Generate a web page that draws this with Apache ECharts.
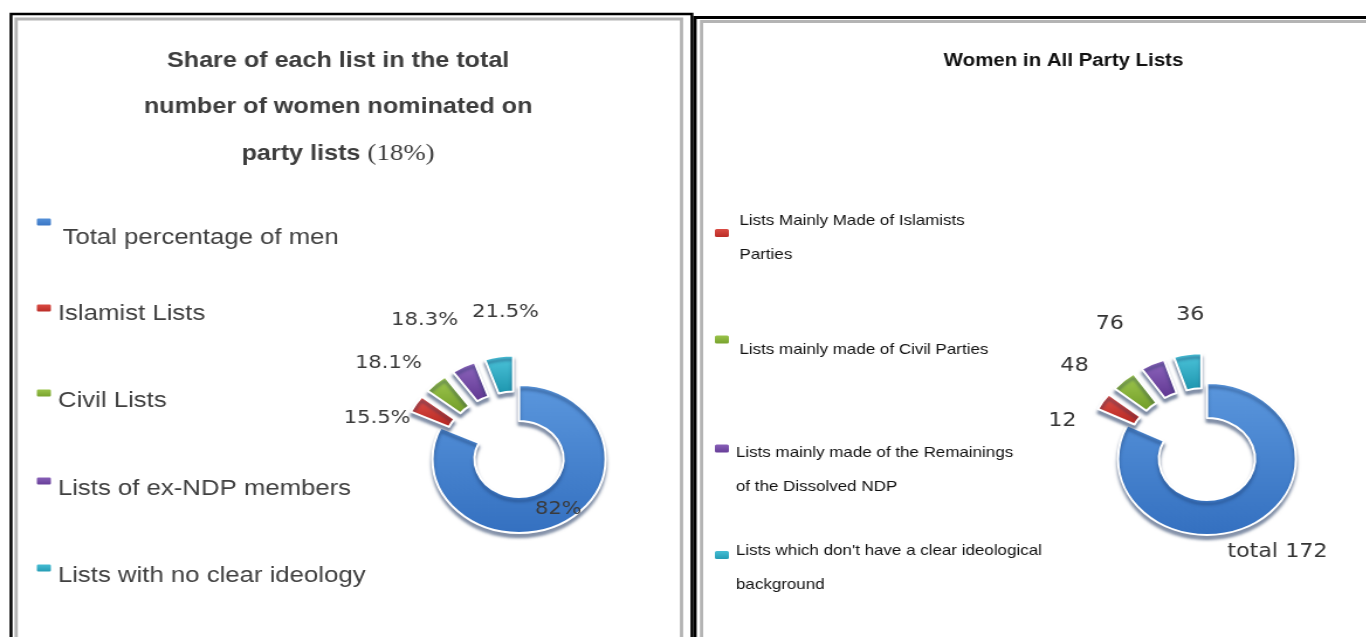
<!DOCTYPE html>
<html>
<head>
<meta charset="utf-8">
<title>Women on party lists</title>
<script src="https://cdn.jsdelivr.net/npm/echarts@6/dist/echarts.min.js"></script>
<style>
html, body { margin: 0; padding: 0; background: #fff; overflow: hidden; }
/* the source picture is stretched sideways, so the chart is drawn narrower and scaled */
#chart { width: 1168px; height: 637px; transform: scaleX(1.17); transform-origin: 0 0; }
</style>
</head>
<body>
<div id="chart"></div>
<script>
// left panel: share of each list
var leftNames = ['Total percentage of men', 'Islamist Lists', 'Civil Lists', 'Lists of ex-NDP members', 'Lists with no clear ideology'];
var leftSlice = [82, 3.8, 4.4, 4.5, 5.3];
var leftLabels = ['82%', '15.5%', '18.1%', '18.3%', '21.5%'];

// right panel: women in all party lists
var rightNames = ['Total', 'Lists Mainly Made of Islamists Parties', 'Lists mainly made of Civil Parties', 'Lists mainly made of the Remainings of the Dissolved NDP', "Lists which don't have a clear ideological background"];
var rightLegendText = ['', 'Lists Mainly Made of Islamists\nParties', 'Lists mainly made of Civil Parties', 'Lists mainly made of the Remainings\nof the Dissolved NDP', "Lists which don't have a clear ideological\nbackground"];
var rightCounts = [172, 12, 48, 76, 36];
var rightSlice = [82, 3.6, 4.6, 4.4, 5.0];

var colors = [['#5b97dd', '#3470c0'], ['#e2544c', '#b3241f'], ['#a3cc52', '#6f9a26'], ['#9169c0', '#5e3590'], ['#4fc6dc', '#1c94ad']];

// small nudges so the labels sit where the source put them
var leftNudge = [[2, 1], [9, 20], [0, -13], [5, -37], [41, -34]];
var rightNudge = [[-33, 20], [-9, 25], [-18, -7], [-15, -31], [21, -29]];

function grad(c) {
    return new echarts.graphic.LinearGradient(0, 0, 0, 1, [
        { offset: 0, color: c[0] },
        { offset: 1, color: c[1] }
    ]);
}

var chart = echarts.init(document.getElementById('chart'));

function pieData(names, values, labelPos) {
    return names.map(function (n, i) {
        var item = { name: n, value: values[i], selected: i > 0, itemStyle: { color: grad(colors[i]) } };
        if (i === 0) item.label = { position: labelPos };
        return item;
    });
}

var pieBase = {
    type: 'pie',
    startAngle: 90,
    clockwise: true,
    selectedMode: 'multiple',
    selectedOffset: 30,
    avoidLabelOverlap: false,
    emphasis: { disabled: true },
    itemStyle: {
        borderColor: '#fff',
        borderWidth: 2,
        shadowColor: 'rgba(20, 45, 90, 0.5)',
        shadowBlur: 3,
        shadowOffsetY: 4
    },
    select: { itemStyle: { borderColor: '#fff', borderWidth: 2 } },
    labelLine: { show: false, length: 10, length2: 0 }
};

function richLines(text) {
    return text.split('\n').map(function (s) { return '{a|' + s + '}'; }).join('\n');
}

// one small legend per item so every entry sits like the picture
var legends = [];
var leftLegendTops = [216.5, 302.5, 387.5, 475.5, 562.5];
var leftLegendPad = [[32, 0, 0, 4], [12, 0, 0, 0], [16, 0, 0, 0], [16, 0, 0, 0], [16, 0, 0, 0]];
leftNames.forEach(function (n, i) {
    legends.push({
        orient: 'vertical',
        left: 29.5,
        top: leftLegendTops[i],
        padding: 0,
        itemWidth: 14,
        itemHeight: 9,
        selectedMode: false,
        data: [n],
        formatter: richLines,
        textStyle: {
            padding: leftLegendPad[i],
            rich: { a: { fontFamily: 'Liberation Sans', fontSize: 22, lineHeight: 26, color: '#404040' } }
        }
    });
});

var rightLegendTops = [213.5, 333.5, 442.5, 543.5];
var rightLegendPad = [[10, 0, 0, 3], [20, 0, 0, 3], [42, 0, 0, 0], [26, 0, 0, 0]];
for (var i = 1; i < rightNames.length; i++) {
    legends.push({
        orient: 'vertical',
        left: 609,
        top: rightLegendTops[i - 1],
        padding: 0,
        itemWidth: 14,
        itemHeight: 10,
        selectedMode: false,
        data: [rightNames[i]],
        formatter: function (name) {
            return richLines(rightLegendText[rightNames.indexOf(name)]);
        },
        textStyle: {
            padding: rightLegendPad[i - 1],
            rich: { a: { fontFamily: 'Liberation Sans', fontSize: 14.5, lineHeight: 34, color: '#111' } }
        }
    });
}

var option = {
    backgroundColor: '#fff',
    animation: false,
    graphic: [
        { type: 'rect', shape: { x: 9.4, y: 14, width: 582, height: 700 }, style: { fill: 'none', stroke: '#000', lineWidth: 2.5 } },
        { type: 'rect', shape: { x: 13.8, y: 19, width: 568.7, height: 700 }, style: { fill: 'none', stroke: '#b4b4b4', lineWidth: 2.8 } },
        { type: 'rect', shape: { x: 594, y: 17.5, width: 700, height: 700 }, style: { fill: 'none', stroke: '#000', lineWidth: 2.8 } },
        { type: 'rect', shape: { x: 599.6, y: 21.5, width: 700, height: 700 }, style: { fill: 'none', stroke: '#b4b4b4', lineWidth: 2.8 } }
    ],
    title: [{
        text: 'Share of each list in the total\nnumber of women nominated on\nparty lists {p|(18%)}',
        left: 289,
        top: 37.5,
        textAlign: 'center',
        padding: 0,
        textStyle: {
            fontFamily: 'Liberation Sans',
            fontWeight: 'bold',
            fontSize: 21.5,
            lineHeight: 46.5,
            color: '#3d3d3d',
            rich: {
                p: { fontFamily: 'Liberation Serif', fontSize: 23, fontWeight: 'normal', color: '#3d3d3d', lineHeight: 46.5 }
            }
        }
    }, {
        text: 'Women in All Party Lists',
        left: 909,
        top: 50,
        textAlign: 'center',
        padding: 0,
        textStyle: { fontFamily: 'Liberation Sans', fontWeight: 'bold', fontSize: 17.5, lineHeight: 22, color: '#111' }
    }],
    legend: legends,
    series: [
        Object.assign({}, pieBase, {
            center: [443.6, 459],
            radius: [38, 74],
            label: {
                show: true,
                position: 'outside',
                formatter: function (p) { return leftLabels[p.dataIndex]; },
                fontFamily: 'DejaVu Sans',
                fontSize: 18,
                color: '#3a3a3a'
            },
            labelLayout: function (p) {
                var n = leftNudge[p.dataIndex];
                return { dx: n[0], dy: n[1], hideOverlap: false };
            },
            data: pieData(leftNames, leftSlice, 'inside')
        }),
        Object.assign({}, pieBase, {
            center: [1031.6, 459],
            radius: [41, 76],
            label: {
                show: true,
                position: 'outside',
                formatter: function (p) { return p.dataIndex === 0 ? 'total ' + rightCounts[0] : String(rightCounts[p.dataIndex]); },
                fontFamily: 'DejaVu Sans',
                fontSize: 19,
                color: '#333'
            },
            labelLayout: function (p) {
                var n = rightNudge[p.dataIndex];
                return { dx: n[0], dy: n[1], hideOverlap: false };
            },
            data: pieData(rightNames, rightSlice, 'outside')
        })
    ]
};

chart.setOption(option);
</script>
</body>
</html>
